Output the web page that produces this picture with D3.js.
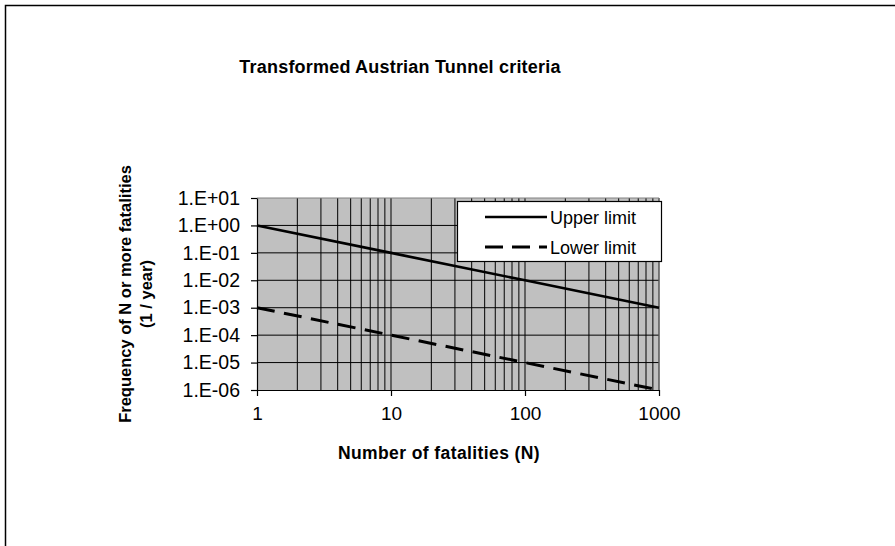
<!DOCTYPE html>
<html>
<head>
<meta charset="utf-8">
<script src="https://cdn.jsdelivr.net/npm/d3@7"></script>
<style>
  html, body { margin: 0; padding: 0; background: #fff; }
  svg { display: block; font-family: "Liberation Sans", Arial, sans-serif; }
</style>
</head>
<body>
<svg id="chart" width="895" height="546"></svg>
<script>
// F-N criteria: frequency of N or more fatalities per year
const fatalities = [1, 10, 100, 1000];
const upperLimit = [1, 0.1, 0.01, 0.001];
const lowerLimit = [0.001, 0.0001, 0.00001, 0.000001];

const xTicks = [1, 10, 100, 1000];
const xTickLabels = ["1", "10", "100", "1000"];
const yTicks = [10, 1, 0.1, 0.01, 0.001, 0.0001, 0.00001, 0.000001];
const yTickLabels = ["1.E+01", "1.E+00", "1.E-01", "1.E-02", "1.E-03", "1.E-04", "1.E-05", "1.E-06"];

const seriesNames = ["Upper limit", "Lower limit"];
const titleText = "Transformed Austrian Tunnel criteria";
const xTitle = "Number of fatalities (N)";
const yTitleLines = ["Frequency of N or more fatalities", "(1 / year)"];

const svg = d3.select("#chart");

// outer chart frame
svg.append("rect")
  .attr("x", 5.5).attr("y", 5.5)
  .attr("width", 1200).attr("height", 1200)
  .attr("fill", "#fff").attr("stroke", "#000").attr("stroke-width", 1.5);

const plot = { left: 257, right: 659, top: 198, bottom: 390 };

const x = d3.scaleLog().domain([1, 1000]).range([plot.left, plot.right]);
const y = d3.scaleLog().domain([1e-6, 10]).range([plot.bottom, plot.top]);

// plot area background
svg.append("rect")
  .attr("x", plot.left).attr("y", plot.top)
  .attr("width", plot.right - plot.left).attr("height", plot.bottom - plot.top)
  .attr("fill", "#c0c0c0");

// vertical gridlines at every log step
const minorX = [];
for (let d = 1; d < 1000; d *= 10) {
  for (let k = 1; k <= 9; k++) minorX.push(d * k);
}
minorX.push(1000);
svg.append("g")
  .selectAll("line")
  .data(minorX.filter(v => v > 1))
  .join("line")
  .attr("x1", d => x(d)).attr("x2", d => x(d))
  .attr("y1", plot.top).attr("y2", plot.bottom)
  .attr("stroke", "#000").attr("stroke-width", 1);

// horizontal gridlines at each decade
svg.append("g")
  .selectAll("line")
  .data(yTicks.filter(v => v < 10 && v > 1e-6))
  .join("line")
  .attr("x1", plot.left).attr("x2", plot.right)
  .attr("y1", d => y(d)).attr("y2", d => y(d))
  .attr("stroke", "#000").attr("stroke-width", 1);

// plot area border (top / right)
svg.append("path")
  .attr("d", `M${plot.left},${plot.top}H${plot.right}V${plot.bottom}`)
  .attr("fill", "none").attr("stroke", "#808080").attr("stroke-width", 1);

// axes
const xAxis = d3.axisBottom(x)
  .tickValues(xTicks)
  .tickFormat((d, i) => xTickLabels[i])
  .tickSize(6).tickSizeOuter(0).tickPadding(11);
const gx = svg.append("g")
  .attr("transform", `translate(0,${plot.bottom})`)
  .call(xAxis);
gx.selectAll("text").attr("font-size", 19).attr("fill", "#000")
  .attr("font-family", "Liberation Sans, Arial, sans-serif");

const yAxis = d3.axisLeft(y)
  .tickValues(yTicks)
  .tickFormat((d, i) => yTickLabels[i])
  .tickSize(6).tickSizeOuter(0).tickPadding(11);
const gy = svg.append("g")
  .attr("transform", `translate(${plot.left},0)`)
  .call(yAxis);
gy.selectAll("text").attr("font-size", 19.5).attr("fill", "#000")
  .attr("font-family", "Liberation Sans, Arial, sans-serif");

[gx, gy].forEach(g => {
  g.select(".domain").attr("stroke", "#000").attr("stroke-width", 1.2);
  g.selectAll(".tick line").attr("stroke", "#000").attr("stroke-width", 1.2);
});

// series lines
const line = d3.line()
  .x(d => x(d[0]))
  .y(d => y(d[1]));

const upperPts = fatalities.map((n, i) => [n, upperLimit[i]]);
const lowerPts = fatalities.map((n, i) => [n, lowerLimit[i]]);

svg.append("path")
  .datum(upperPts)
  .attr("d", line)
  .attr("fill", "none").attr("stroke", "#000").attr("stroke-width", 2.6);

svg.append("path")
  .datum(lowerPts)
  .attr("d", line)
  .attr("fill", "none").attr("stroke", "#000").attr("stroke-width", 3)
  .attr("stroke-dasharray", "18,9.5");

// legend
const legend = svg.append("g").attr("transform", "translate(457,201)");
legend.append("rect")
  .attr("x", 0.5).attr("y", 0.5).attr("width", 204).attr("height", 60)
  .attr("fill", "#fff").attr("stroke", "#000").attr("stroke-width", 1.2);
const legendItems = legend.selectAll("g.item")
  .data(seriesNames)
  .join("g")
  .attr("class", "item")
  .attr("transform", (d, i) => `translate(0,${16 + i * 30})`);
legendItems.append("line")
  .attr("x1", 28).attr("x2", 90)
  .attr("stroke", "#000")
  .attr("stroke-width", (d, i) => i === 0 ? 2.6 : 3)
  .attr("stroke-dasharray", (d, i) => i === 0 ? null : "18,9");
legendItems.append("text")
  .attr("x", 93).attr("y", 6.5)
  .attr("font-size", 18)
  .text(d => d);

// chart title
svg.append("text")
  .attr("x", 400).attr("y", 73)
  .attr("text-anchor", "middle")
  .attr("font-size", 18).attr("font-weight", "bold")
  .attr("letter-spacing", 0.2)
  .text(titleText);

// x axis title
svg.append("text")
  .attr("x", 439).attr("y", 459)
  .attr("text-anchor", "middle")
  .attr("font-size", 17.5).attr("font-weight", "bold")
  .attr("letter-spacing", 0.4)
  .text(xTitle);

// y axis title (two lines)
const yTitle = svg.append("text")
  .attr("transform", `translate(131,${(plot.top + plot.bottom) / 2}) rotate(-90)`)
  .attr("text-anchor", "middle")
  .attr("font-size", 16.5).attr("font-weight", "bold");
yTitleLines.forEach((t, i) => {
  yTitle.append("tspan")
    .attr("x", 0).attr("dy", i === 0 ? 0 : 21)
    .text(t);
});
</script>
</body>
</html>
